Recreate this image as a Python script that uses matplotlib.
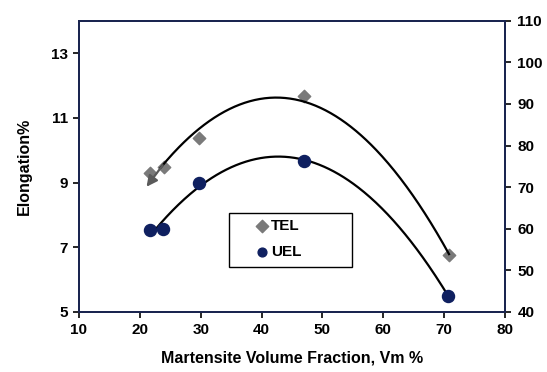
import numpy as np
import matplotlib
matplotlib.use("Agg")
import matplotlib.pyplot as plt
from matplotlib.patches import Rectangle

plt.rcParams['font.family'] = ['Liberation Sans', 'DejaVu Sans']
plt.rcParams['font.weight'] = 'bold'

# Data
vm_tel = [21.7, 23.9, 29.8, 46.9, 70.8]
tel = [9.30, 9.47, 10.38, 11.68, 6.75]
vm_uel = [21.7, 23.8, 29.7, 46.9, 70.7]
uel = [7.52, 7.55, 8.99, 9.68, 5.49]

xticks = [10, 20, 30, 40, 50, 60, 70, 80]
yticks_left = [5, 7, 9, 11, 13]
yticks_right = [40, 50, 60, 70, 80, 90, 100, 110]

spine_color = '#1a2550'
fs = 11

fig = plt.figure(figsize=(5.47, 3.72), dpi=100)
ax = fig.add_axes([0.1444, 0.1613, 0.7788, 0.7831])

ax.scatter(vm_tel, tel, marker='D', s=40, color='#7a7a7a', zorder=3, label='TEL')
ax.scatter(vm_uel, uel, marker='o', s=75, color='#0f2060', zorder=3, label='UEL')

# quadratic trend lines
c_t = np.polyfit(vm_tel, tel, 2)
c_u = np.polyfit(vm_uel, uel, 2)
xt = np.linspace(min(vm_tel) - 0.6, max(vm_tel), 300)
xu = np.linspace(min(vm_uel) + 0.8, max(vm_uel) - 0.2, 300)
ax.plot(xt[14:], np.polyval(c_t, xt[14:]), color='black', lw=1.6, zorder=4)
ax.plot(xu, np.polyval(c_u, xu), color='black', lw=1.6, zorder=2)
# arrowhead at start of TEL curve
ax.annotate('', xy=(xt[0], np.polyval(c_t, xt[0]) - 0.03), xytext=(xt[16], np.polyval(c_t, xt[16])),
            arrowprops=dict(arrowstyle='-|>', color='#5a5a5a', lw=1.6, mutation_scale=16,
                            shrinkA=0, shrinkB=0), zorder=4)

ax.set_xlim(10, 80)
ax.set_ylim(5, 14)
ax.set_xticks(xticks)
ax.set_xticklabels([str(v) for v in xticks], fontsize=fs, fontweight='bold')
ax.set_yticks(yticks_left)
ax.set_yticklabels([str(v) for v in yticks_left], fontsize=fs, fontweight='bold')
ax.tick_params(axis='both', colors='black', direction='out', length=4, width=1.2, pad=4)
ax.set_xlabel('Martensite Volume Fraction, Vm %', fontsize=fs + 0.5, fontweight='bold', labelpad=10)
ax.set_ylabel('Elongation%', fontsize=fs + 0.5, fontweight='bold', labelpad=14)

ax2 = ax.twinx()
ax2.set_ylim(40, 110)
ax2.set_yticks(yticks_right)
ax2.set_yticklabels([str(v) for v in yticks_right], fontsize=fs, fontweight='bold')
ax2.tick_params(axis='y', direction='out', length=4, width=1.2, pad=5)

for a in (ax, ax2):
    for s in a.spines.values():
        s.set_color(spine_color)
        s.set_linewidth(1.4)

# legend box
ax.add_patch(Rectangle((0.353, 0.153), 0.287, 0.188, transform=ax.transAxes, fill=False,
                       edgecolor='black', lw=1.0, zorder=4))
leg = ax.legend(loc='center left', bbox_to_anchor=(0.412, 0.25), frameon=False,
                fontsize=fs, handletextpad=0.1, borderpad=0.0,
                labelspacing=0.75, handlelength=1.0, borderaxespad=0)
for t in leg.get_texts():
    t.set_fontweight('bold')
for h in leg.legend_handles:
    h.set_sizes([40])

fig.savefig('out.png', dpi=100)
